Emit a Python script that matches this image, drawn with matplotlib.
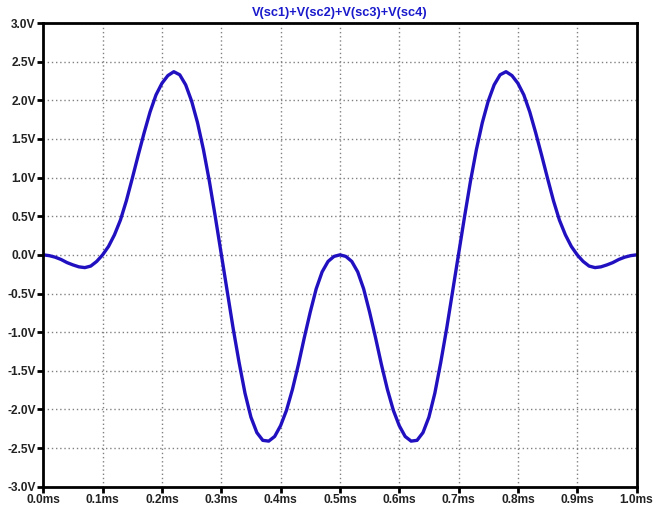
import matplotlib
matplotlib.use("Agg")
import matplotlib.pyplot as plt
from matplotlib.ticker import FuncFormatter

# time in ms, 0.01 ms step
time_ms = [i / 100 for i in range(101)]
volts = [
    0.00, -0.01, -0.03, -0.06, -0.10, -0.13, -0.155, -0.165, -0.145, -0.085,
    0.00, 0.11, 0.26, 0.45, 0.70, 0.99, 1.29, 1.58, 1.85, 2.07,
    2.22, 2.32, 2.37, 2.33, 2.20, 1.99, 1.71, 1.36, 0.95, 0.49,
    0.01, -0.47, -0.95, -1.39, -1.79, -2.10, -2.30, -2.40, -2.41, -2.35,
    -2.21, -2.01, -1.74, -1.42, -1.07, -0.74, -0.44, -0.22, -0.085, -0.02,
    0.00,
    -0.02, -0.085, -0.22, -0.44, -0.74, -1.07, -1.42, -1.74, -2.01, -2.21,
    -2.35, -2.41, -2.40, -2.30, -2.10, -1.79, -1.39, -0.95, -0.47, 0.01,
    0.49, 0.95, 1.36, 1.71, 1.99, 2.20, 2.33, 2.37, 2.32, 2.22,
    2.07, 1.85, 1.58, 1.29, 0.99, 0.70, 0.45, 0.26, 0.11, 0.00,
    -0.085, -0.145, -0.165, -0.155, -0.13, -0.10, -0.06, -0.03, -0.01, 0.00,
]
x_ticks = [i / 10 for i in range(11)]
y_ticks = [-3.0, -2.5, -2.0, -1.5, -1.0, -0.5, 0.0, 0.5, 1.0, 1.5, 2.0, 2.5, 3.0]
title = "V(sc1)+V(sc2)+V(sc3)+V(sc4)"

plt.rcParams['font.family'] = ['Liberation Sans', 'DejaVu Sans']

fig = plt.figure(figsize=(6.54, 5.08), dpi=100)
ax = fig.add_axes([0.0662, 0.0419, 0.9071, 0.9128])

ax.plot(time_ms, volts, color='#2010c0', lw=2.4, solid_capstyle='round',
        solid_joinstyle='round')

ax.set_xlim(0, 1.0)
ax.set_ylim(-3.0, 3.0)
ax.set_xticks(x_ticks)
ax.set_yticks(y_ticks)
ax.xaxis.set_major_formatter(FuncFormatter(lambda v, p: f"{v:.1f}ms"))
ax.yaxis.set_major_formatter(FuncFormatter(lambda v, p: f"{v:.1f}V"))
ax.grid(True, color='#808080', linestyle=(0, (1, 2)), lw=1.0)
for s in ax.spines.values():
    s.set_linewidth(2.0)
    s.set_color('black')
ax.tick_params(axis='both', direction='out', length=4, width=2, pad=1.5,
               labelsize=8.6, colors='black')
for lbl in ax.get_xticklabels() + ax.get_yticklabels():
    lbl.set_fontweight('bold')
    lbl.set_color('#222222')

fig.text(0.52, 0.975, title, color='#1a1acc', fontsize=9.2, fontweight='bold',
         ha='center', va='center')

fig.savefig("out.png", dpi=100)
